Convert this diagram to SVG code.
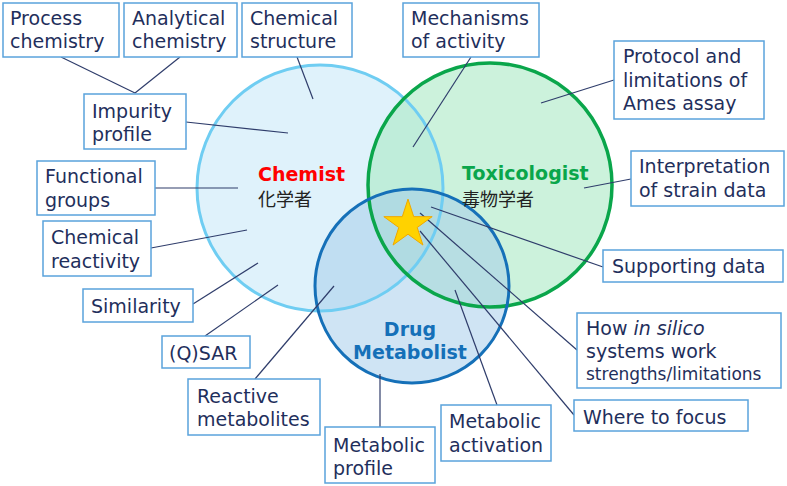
<svg xmlns="http://www.w3.org/2000/svg" width="787" height="486" viewBox="0 0 787 486">
<style>
.box rect{fill:#fff;stroke:#5aa3dc;stroke-width:1.5}
.box text{font-family:"DejaVu Sans",Verdana,sans-serif;font-size:19px;fill:#1f2f5c}
.conn line{stroke:#2f3d6b;stroke-width:1.2}
.role{font-family:"DejaVu Sans",Verdana,sans-serif;font-size:19px;font-weight:bold}
.cjk{font-family:"Noto Sans CJK JP","Noto Sans CJK SC",sans-serif;font-size:18px;fill:#222}
</style>
<rect width="787" height="486" fill="#fff"/>
<g id="circles">
<circle cx="320" cy="188" r="123" fill="#dff2fb"/>
<circle cx="490" cy="185" r="122" fill="#aae9c5" fill-opacity="0.6"/>
<circle cx="412" cy="286" r="97" fill="#a3cbea" fill-opacity="0.52"/>
<circle cx="320" cy="188" r="123" fill="none" stroke="#6fcdf2" stroke-width="3"/>
<circle cx="490" cy="185" r="122" fill="none" stroke="#0aa64b" stroke-width="3.5"/>
<circle cx="412" cy="286" r="97" fill="none" stroke="#1570b8" stroke-width="3"/>
</g>
<g id="role-chemist"><text class="role" x="258" y="181" fill="#ff0000">Chemist</text><text class="cjk" x="258" y="206">化学者</text></g>
<g id="role-toxicologist"><text class="role" x="462" y="180" fill="#0aa64b">Toxicologist</text><text class="cjk" x="462" y="206">毒物学者</text></g>
<g id="role-metabolist"><text class="role" x="410" y="336" fill="#1570b8" text-anchor="middle">Drug</text><text class="role" x="410" y="359" fill="#1570b8" text-anchor="middle">Metabolist</text></g>
<g id="connectors" class="conn">
<line x1="61" y1="57" x2="135" y2="93"/>
<line x1="180" y1="57" x2="135" y2="93"/>
<line x1="297" y1="57" x2="313" y2="99"/>
<line x1="186" y1="122" x2="288" y2="133"/>
<line x1="471" y1="57" x2="413" y2="147"/>
<line x1="614" y1="80" x2="541" y2="103"/>
<line x1="155" y1="188" x2="238" y2="188"/>
<line x1="151" y1="248" x2="247" y2="230"/>
<line x1="193" y1="304" x2="258" y2="263"/>
<line x1="205" y1="336" x2="278" y2="285"/>
<line x1="255" y1="379" x2="334" y2="286"/>
<line x1="380" y1="427" x2="380" y2="374"/>
<line x1="497" y1="405" x2="455" y2="290"/>
<line x1="631" y1="179" x2="584" y2="188"/>
<line x1="603" y1="267" x2="431" y2="207"/>
<line x1="577" y1="350" x2="420" y2="213"/>
<line x1="574" y1="415" x2="420" y2="231"/>
</g>
<g id="star"><polygon points="408,199.1 413.7,216.65 432.16,216.65 417.22,227.5 422.93,245.05 408,234.2 393.07,245.05 398.78,227.5 383.84,216.65 402.3,216.65" fill="#ffd200" stroke="#f0a800" stroke-width="1"/></g>
<g id="n-process" class="box"><rect x="3" y="3" width="116" height="54"/><text x="10" y="25">Process</text><text x="10" y="48">chemistry</text></g>
<g id="n-analytical" class="box"><rect x="124" y="3" width="113" height="54"/><text x="132" y="25">Analytical</text><text x="132" y="48">chemistry</text></g>
<g id="n-structure" class="box"><rect x="242" y="3" width="110" height="54"/><text x="250" y="25">Chemical</text><text x="250" y="48">structure</text></g>
<g id="n-impurity" class="box"><rect x="84" y="94" width="102" height="55"/><text x="92" y="118">Impurity</text><text x="92" y="141">profile</text></g>
<g id="n-mechanisms" class="box"><rect x="403" y="3" width="136" height="54"/><text x="411" y="25">Mechanisms</text><text x="411" y="48">of activity</text></g>
<g id="n-protocol" class="box"><rect x="614" y="41" width="150" height="78"/><text x="623" y="63">Protocol and</text><text x="623" y="87">limitations of</text><text x="623" y="110">Ames assay</text></g>
<g id="n-functional" class="box"><rect x="37" y="161" width="118" height="54"/><text x="45" y="183">Functional</text><text x="45" y="207">groups</text></g>
<g id="n-reactivity" class="box"><rect x="43" y="221" width="108" height="55"/><text x="51" y="244">Chemical</text><text x="51" y="268">reactivity</text></g>
<g id="n-similarity" class="box"><rect x="83" y="289" width="110" height="33"/><text x="91" y="313">Similarity</text></g>
<g id="n-qsar" class="box"><rect x="162" y="336" width="88" height="32"/><text x="169" y="360">(Q)SAR</text></g>
<g id="n-reactive" class="box"><rect x="188" y="379" width="132" height="56"/><text x="197" y="403">Reactive</text><text x="197" y="426">metabolites</text></g>
<g id="n-profile" class="box"><rect x="325" y="427" width="110" height="56"/><text x="333" y="452">Metabolic</text><text x="333" y="475">profile</text></g>
<g id="n-activation" class="box"><rect x="441" y="405" width="110" height="56"/><text x="449" y="428">Metabolic</text><text x="449" y="452">activation</text></g>
<g id="n-strain" class="box"><rect x="631" y="151" width="153" height="55"/><text x="639" y="173">Interpretation</text><text x="639" y="197">of strain data</text></g>
<g id="n-supporting" class="box"><rect x="603" y="250" width="180" height="32"/><text x="612" y="273">Supporting data</text></g>
<g id="n-insilico" class="box"><rect x="577" y="313" width="204" height="75"/><text x="586" y="335">How <tspan font-style="italic">in silico</tspan></text><text x="586" y="358">systems work</text><text x="586" y="380" style="font-size:17px">strengths/limitations</text></g>
<g id="n-focus" class="box"><rect x="574" y="400" width="174" height="31"/><text x="583" y="424">Where to focus</text></g>
</svg>
